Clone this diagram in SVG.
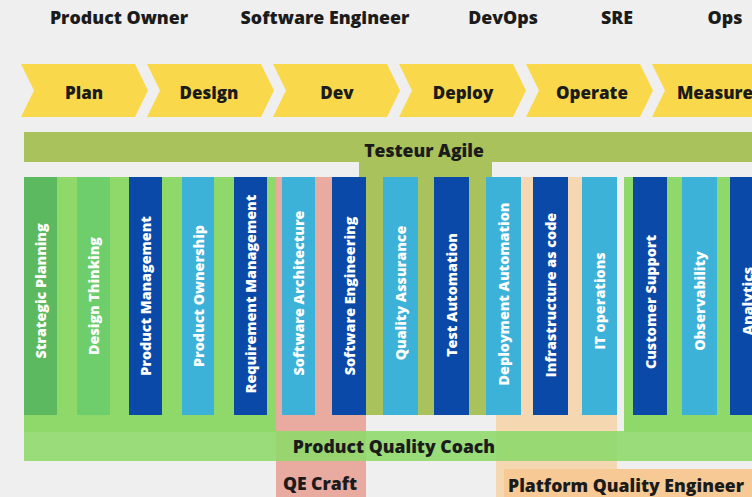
<svg xmlns="http://www.w3.org/2000/svg" width="752" height="497" viewBox="0 0 752 497">
<defs>
<style>
.bg{fill:#efefef}
.chev{fill:#f9d94b}
.t{font-family:"Open Sans","Liberation Sans",sans-serif;font-weight:800;fill:#1b1b1b;text-anchor:middle}
.role{font-size:17.8px}
.phase{font-size:17px}
.lbl{font-size:17.6px}
.col{font-family:"Open Sans","Liberation Sans",sans-serif;font-weight:800;font-size:14.3px;fill:#ffffff;text-anchor:middle;dominant-baseline:central}
.olive{fill:#a9c25b}
.lg{fill:#8fd96b}
.pink{fill:#e9aaa0}
.peach{fill:#f5d7b2}
.peach2{fill:#f7ca95}
.db{fill:#0b49a8}
.lb{fill:#3db2d9}
.g1{fill:#5db960}
.g2{fill:#6dce6b}
</style>
</defs>
<rect class="bg" x="0" y="0" width="752" height="497"/>

<g id="roles">
<text class="t role" x="119" y="24">Product Owner</text>
<text class="t role" x="325" y="24">Software Engineer</text>
<text class="t role" x="503" y="24">DevOps</text>
<text class="t role" x="617" y="24">SRE</text>
<text class="t role" x="725" y="24">Ops</text>
</g>

<g id="phases">
<g id="phase-plan"><polygon class="chev" points="21,64 135,64 148,90.5 135,117 21,117 34,90.5"/><text class="t phase" x="84" y="99">Plan</text></g>
<g id="phase-design"><polygon class="chev" points="147,64 261,64 274,90.5 261,117 147,117 160,90.5"/><text class="t phase" x="209" y="99">Design</text></g>
<g id="phase-dev"><polygon class="chev" points="273,64 387,64 400,90.5 387,117 273,117 286,90.5"/><text class="t phase" x="337" y="99">Dev</text></g>
<g id="phase-deploy"><polygon class="chev" points="399,64 513,64 526,90.5 513,117 399,117 412,90.5"/><text class="t phase" x="463" y="99">Deploy</text></g>
<g id="phase-operate"><polygon class="chev" points="526,64 640,64 653,90.5 640,117 526,117 539,90.5"/><text class="t phase" x="592" y="99">Operate</text></g>
<g id="phase-measure"><polygon class="chev" points="652,64 766,64 779,90.5 766,117 652,117 665,90.5"/><text class="t phase" x="715" y="99">Measure</text></g>
</g>

<g id="testeur-agile">
<rect class="olive" x="24" y="132" width="728" height="30"/>
<rect class="olive" x="359" y="160" width="133" height="255"/>
<text class="t lbl" x="424" y="157">Testeur Agile</text>
</g>

<g id="product-owner-area">
<rect class="lg" x="24" y="177" width="252" height="255"/>
</g>

<g id="qe-craft">
<rect class="pink" x="276" y="177" width="90" height="320"/>
</g>

<g id="platform-area">
<rect class="peach" x="496" y="177" width="121" height="320"/>
</g>

<g id="ops-area">
<rect class="lg" x="624" y="177" width="128" height="255"/>
</g>

<g id="product-quality-coach">
<rect class="lg" x="24" y="431" width="728" height="30" opacity="0.9"/>
<text class="t lbl" x="394" y="453">Product Quality Coach</text>
</g>

<g id="qe-craft-label">
<text class="t lbl" x="320" y="490">QE Craft</text>
</g>

<g id="platform-quality-engineer">
<rect class="peach2" x="504" y="469" width="248" height="28"/>
<text class="t lbl" x="626" y="492">Platform Quality Engineer</text>
</g>

<g id="columns">
<g id="c-strategic-planning"><rect class="g1" x="24" y="177" width="33" height="238"/><text class="col" transform="translate(40.5,291) rotate(-90)">Strategic Planning</text></g>
<g id="c-design-thinking"><rect class="g2" x="77" y="177" width="33" height="238"/><text class="col" transform="translate(93.5,296) rotate(-90)">Design Thinking</text></g>
<g id="c-product-management"><rect class="db" x="129" y="177" width="33" height="238"/><text class="col" transform="translate(145.5,296) rotate(-90)">Product Management</text></g>
<g id="c-product-ownership"><rect class="lb" x="182" y="177" width="32" height="238"/><text class="col" transform="translate(198,296) rotate(-90)">Product Ownership</text></g>
<g id="c-requirement-management"><rect class="db" x="234" y="177" width="33" height="238"/><text class="col" transform="translate(250.5,294) rotate(-90)">Requirement Management</text></g>
<g id="c-software-architecture"><rect class="lb" x="282" y="177" width="33" height="238"/><text class="col" transform="translate(298.5,293) rotate(-90)">Software Architecture</text></g>
<g id="c-software-engineering"><rect class="db" x="332" y="177" width="34" height="238"/><text class="col" transform="translate(349,296) rotate(-90)">Software Engineering</text></g>
<g id="c-quality-assurance"><rect class="lb" x="383" y="177" width="35" height="238"/><text class="col" transform="translate(400.5,293) rotate(-90)">Quality Assurance</text></g>
<g id="c-test-automation"><rect class="db" x="434" y="177" width="35" height="238"/><text class="col" transform="translate(451.5,295) rotate(-90)">Test Automation</text></g>
<g id="c-deployment-automation"><rect class="lb" x="486" y="177" width="35" height="238"/><text class="col" transform="translate(503.5,294) rotate(-90)">Deployment Automation</text></g>
<g id="c-infrastructure-as-code"><rect class="db" x="533" y="177" width="35" height="238"/><text class="col" transform="translate(550.5,295) rotate(-90)">Infrastructure as code</text></g>
<g id="c-it-operations"><rect class="lb" x="582" y="177" width="35" height="238"/><text class="col" transform="translate(599.5,301) rotate(-90)">IT operations</text></g>
<g id="c-customer-support"><rect class="db" x="633" y="177" width="34" height="238"/><text class="col" transform="translate(650,302) rotate(-90)">Customer Support</text></g>
<g id="c-observability"><rect class="lb" x="682" y="177" width="35" height="238"/><text class="col" transform="translate(699.5,301) rotate(-90)">Observability</text></g>
<g id="c-analytics"><rect class="db" x="730" y="177" width="35" height="238"/><text class="col" transform="translate(747.5,301) rotate(-90)">Analytics</text></g>
</g>
</svg>
